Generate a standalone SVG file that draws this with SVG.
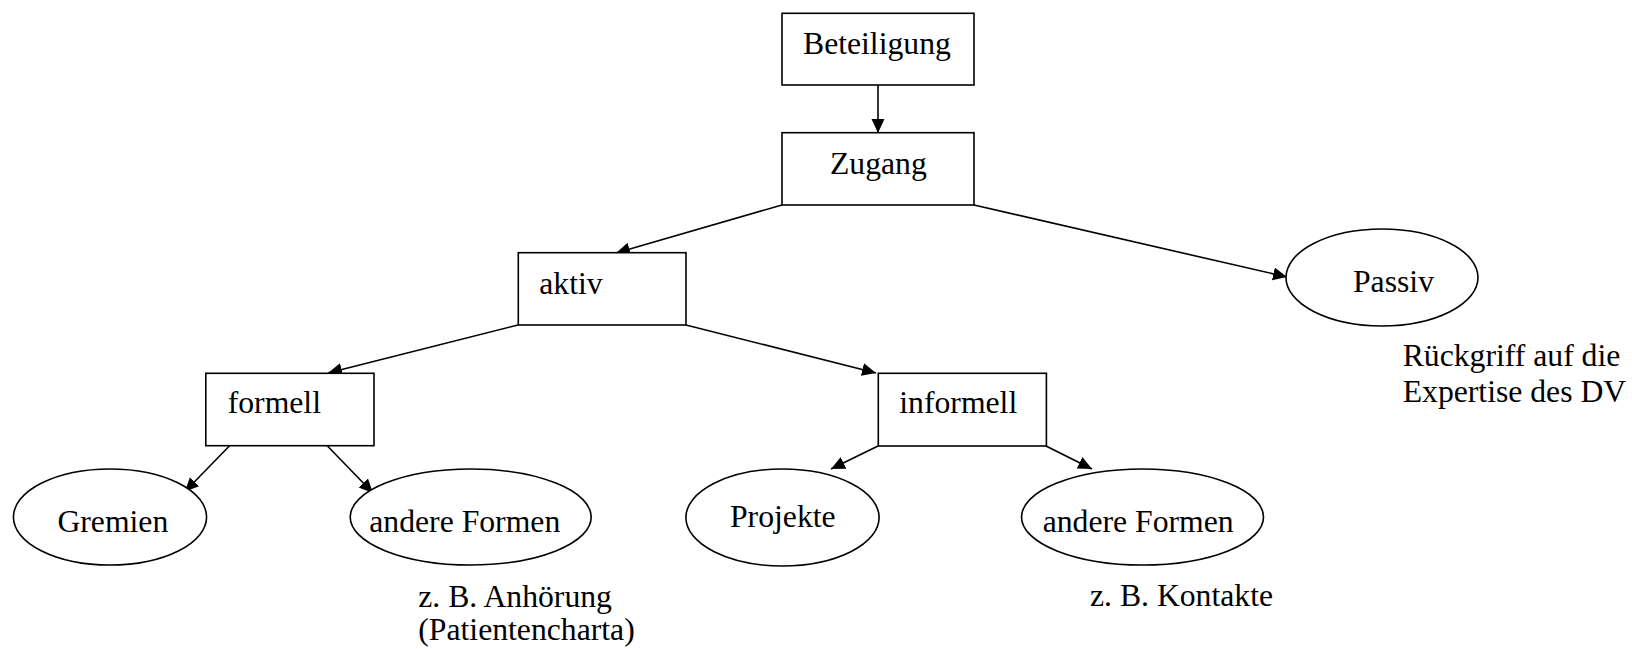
<svg xmlns="http://www.w3.org/2000/svg" width="1632" height="649" viewBox="0 0 1632 649">
<style>
  .box { fill: #fff; stroke: #000; stroke-width: 1.6; }
  text { font-family: 'Liberation Serif', 'Times New Roman', Times, serif; font-size: 31.7px; fill: #000; }
  .edge { stroke: #000; stroke-width: 1.6; fill: none; marker-end: url(#arr); }
</style>
<defs>
  <marker id="arr" markerUnits="userSpaceOnUse" markerWidth="15" markerHeight="14" refX="14" refY="6.5" orient="auto">
    <path d="M0,0 L14,6.5 L0,13 z" fill="#000"/>
  </marker>
</defs>
<rect width="1632" height="649" fill="#fff"/>
<g id="connectors">
  <line class="edge" x1="878" y1="85" x2="878" y2="133"/>
  <line class="edge" x1="782" y1="205" x2="616" y2="253"/>
  <line class="edge" x1="974" y1="205" x2="1287" y2="277"/>
  <line class="edge" x1="518" y1="325" x2="328" y2="373"/>
  <line class="edge" x1="686" y1="325" x2="876" y2="373"/>
  <line class="edge" x1="229.6" y1="445.7" x2="184.8" y2="491.7"/>
  <line class="edge" x1="327.2" y1="445.7" x2="373" y2="493"/>
  <line class="edge" x1="878" y1="446" x2="831" y2="469"/>
  <line class="edge" x1="1046" y1="446" x2="1092" y2="469"/>
</g>
<g font-family="Liberation Serif, serif">
<g id="beteiligung">
  <rect class="box" x="782" y="13.3" width="192" height="71.7"/>
  <text x="803" y="54">Beteiligung</text>
</g>
<g id="zugang">
  <rect class="box" x="782" y="132.7" width="192" height="72.3"/>
  <text x="830" y="174">Zugang</text>
</g>
<g id="aktiv">
  <rect class="box" x="518.3" y="252.7" width="167.7" height="72.3"/>
  <text x="539.3" y="294">aktiv</text>
</g>
<g id="passiv">
  <ellipse class="box" cx="1382" cy="277.5" rx="96" ry="48.5"/>
  <text x="1353" y="292">Passiv</text>
  <text x="1402.7" y="366">Rückgriff auf die</text>
  <text x="1402.7" y="401.7">Expertise des DV</text>
</g>
<g id="formell">
  <rect class="box" x="205.8" y="373.3" width="168.2" height="72.4"/>
  <text x="227.7" y="413.3">formell</text>
</g>
<g id="informell">
  <rect class="box" x="878.3" y="373.3" width="168.1" height="72.7"/>
  <text x="899.3" y="412.7">informell</text>
</g>
<g id="gremien">
  <ellipse class="box" cx="110" cy="517" rx="96.6" ry="48"/>
  <text x="57.4" y="531.7">Gremien</text>
</g>
<g id="andere-formen-formell">
  <ellipse class="box" cx="470.7" cy="517" rx="120.5" ry="48"/>
  <text x="369.3" y="531.7">andere Formen</text>
  <text x="418.3" y="606.7">z. B. Anhörung</text>
  <text x="418.3" y="640">(Patientencharta)</text>
</g>
<g id="projekte">
  <ellipse class="box" cx="782.5" cy="517.5" rx="96.6" ry="48.5"/>
  <text x="730" y="527">Projekte</text>
</g>
<g id="andere-formen-informell">
  <ellipse class="box" cx="1142.5" cy="517" rx="121" ry="48"/>
  <text x="1042.7" y="531.7">andere Formen</text>
  <text x="1090" y="606">z. B. Kontakte</text>
</g>
</g>
</svg>
